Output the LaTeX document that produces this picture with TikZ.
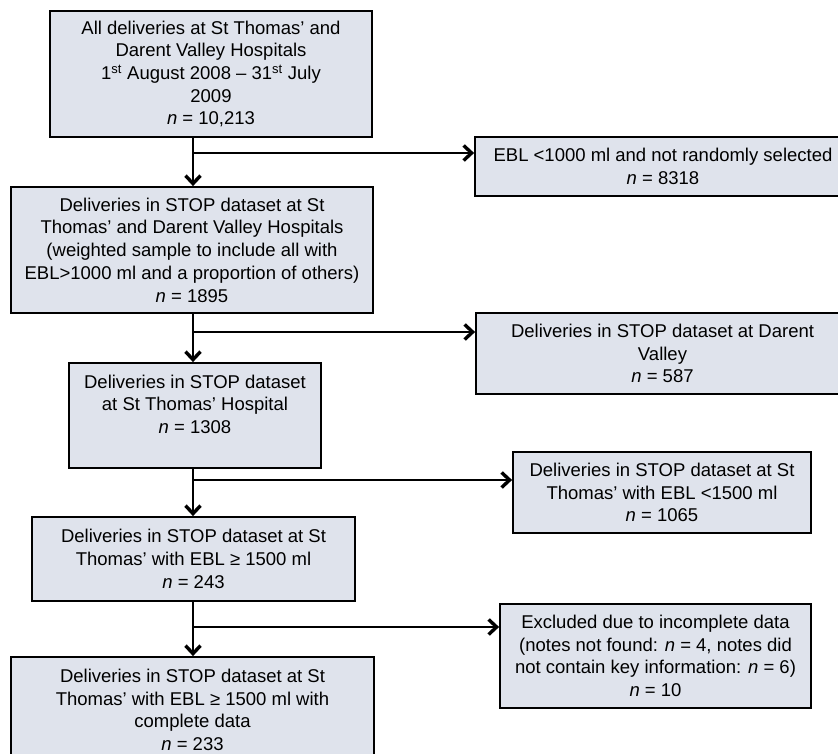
\documentclass[tikz,border=0pt]{standalone}
\usepackage{fontspec}
\setmainfont{Liberation Sans}
\usepackage{xcolor}
\usetikzlibrary{arrows.meta,positioning}
\definecolor{boxfill}{HTML}{DFE3EC}

\begin{document}
\begin{tikzpicture}[x=1pt,y=-1pt,
  box/.style={draw=black,line width=1.8pt,fill=boxfill,align=center,inner sep=0pt,
    font=\fontsize{18.5}{22.7}\selectfont},
  flow/.style={line width=1.6pt,-{Straight Barb[length=8pt,width=15pt,line width=3.4pt]}}]
	\useasboundingbox (0,0) rectangle (838,754);
	\clip (0,0) rectangle (838,754);
	\node[box,minimum width=322,minimum height=126] (all) at (211,74)
	  {All deliveries at St Thomas’ and\\Darent Valley Hospitals\\1\textsuperscript{st} August 2008 -- 31\textsuperscript{st} July\\2009\\\textit{n} = 10,213};
	\node[box,minimum width=376,minimum height=59] (notsel) at (663,166.5)
	  {EBL <1000 ml and not randomly selected\\\textit{n} = 8318};
	\node[box,minimum width=362,minimum height=126] (stop) at (192,250)
	  {Deliveries in STOP dataset at St\\Thomas’ and Darent Valley Hospitals\\(weighted sample to include all with\\EBL>1000 ml and a proportion of others)\\\textit{n} = 1895};
	\node[box,minimum width=373,minimum height=81] (darent) at (662.5,353.5)
	  {Deliveries in STOP dataset at Darent\\Valley\\\textit{n} = 587};
	\node[box,minimum width=252,minimum height=105] (sth) at (195,415.5)
	  {Deliveries in STOP dataset\\at St Thomas’ Hospital\\\textit{n} = 1308\\\mbox{}};
	\node[box,minimum width=298,minimum height=81] (low) at (662,492.5)
	  {Deliveries in STOP dataset at St\\Thomas’ with EBL <1500 ml\\\textit{n} = 1065};
	\node[box,minimum width=323,minimum height=84] (high) at (193.5,559)
	  {Deliveries in STOP dataset at St\\Thomas’ with EBL ≥ 1500 ml\\\textit{n} = 243};
	\node[box,minimum width=311,minimum height=104] (incompl) at (655.5,656)
	  {Excluded due to incomplete data\\(notes not found: \textit{n} = 4, notes did\\not contain key information: \textit{n} = 6)\\\textit{n} = 10};
	\node[box,minimum width=363,minimum height=106] (final) at (192.5,710)
	  {Deliveries in STOP dataset at St\\Thomas’ with EBL ≥ 1500 ml with\\complete data\\\textit{n} = 233};
	%
	\coordinate (b1) at (193,153);
	\coordinate (b2) at (193,332);
	\coordinate (b3) at (193,480);
	\coordinate (b4) at (193,627);
	\draw[flow] (all.south -| b1) -- (stop.north -| b1);
	\draw[flow] (b1) -- (b1 -| notsel.west);
	\draw[flow] (stop.south -| b2) -- (sth.north -| b2);
	\draw[flow] (b2) -- (b2 -| darent.west);
	\draw[flow] (sth.south -| b3) -- (high.north -| b3);
	\draw[flow] (b3) -- (b3 -| low.west);
	\draw[flow] (high.south -| b4) -- (final.north -| b4);
	\draw[flow] (b4) -- (b4 -| incompl.west);
\end{tikzpicture}
\end{document}
